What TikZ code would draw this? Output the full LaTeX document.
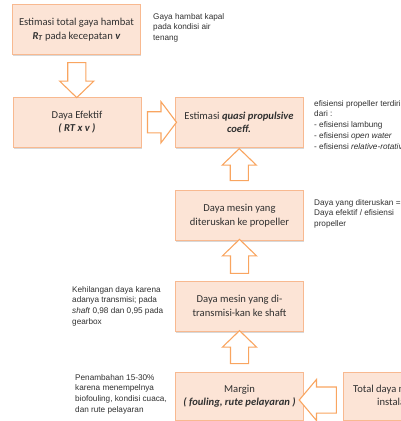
\documentclass[tikz,border=0pt]{standalone}
\usepackage{fontspec}
\setmainfont{Carlito}
\newfontfamily\notefont{Liberation Sans}
\usetikzlibrary{shapes.arrows,shadows,calc}
\definecolor{boxfill}{HTML}{FCE4D6}
\definecolor{boxline}{HTML}{F8B990}
\definecolor{arrline}{HTML}{F9A560}
\definecolor{inkgray}{HTML}{303030}
\begin{document}
\begin{tikzpicture}[x=1pt,y=-1pt,
    box/.style={draw=boxline,fill=boxfill,line width=0.9pt,minimum width=128pt,
      minimum height=50pt,align=center,inner sep=2pt,text=inkgray,
      font=\fontsize{10.6}{13.5}\selectfont,
      drop shadow={shadow xshift=0.6pt,shadow yshift=-1.6pt,fill=black!30,opacity=.5}},
    blockarrow/.style={single arrow,draw=arrline,fill=white,line width=1.1pt,
      inner sep=8.5pt,single arrow head extend=8pt,single arrow tip angle=92,
      minimum height=34pt},
    note/.style={anchor=north west,inner sep=0pt,align=left,text=inkgray,
      font=\notefont\fontsize{8.2}{10.8}\selectfont}]
  \useasboundingbox (0,0) rectangle (401,421);
  % boxes
  \node[box] (gaya) at (76.5,29.5) {Estimasi total gaya hambat\\\textbf{\textit{R\textsubscript{T}}} pada kecepatan \textbf{\textit{v}}};
  \node[box] (efektif) at (77,122) {Daya Efektif\\\textbf{\textit{( RT x v )}}};
  \node[box] (quasi) at (239,122.5) {Estimasi \textbf{\textit{quasi propulsive}}\\\textbf{\textit{coeff.}}};
  \node[box] (diteruskan) at (239.5,215.5) {Daya mesin yang\\diteruskan ke propeller};
  \node[box] (transmisi) at (239.5,306) {Daya mesin yang di-\\transmisi-kan ke shaft};
  \node[box,minimum height=48pt] (margin) at (239.5,396) {Margin\\\textbf{\textit{( fouling, rute pelayaran )}}};
  \node[box,minimum height=48pt] (total) at (407,396) {Total daya mesin yang di-\\instalasi kapal};
  % block arrows
  \node[blockarrow,shape border rotate=270,minimum height=35pt] (a1) at ($(gaya.south)!0.5!(efektif.north)$) {};
  \node[blockarrow,inner sep=10pt,single arrow head extend=10pt,single arrow tip angle=106,minimum height=29pt] (a2) at ($(efektif.east)!0.5!(quasi.west)$) {};
  \node[blockarrow,shape border rotate=90,minimum height=32pt] (a3) at ($(diteruskan.north)!0.5!(quasi.south)$) {};
  \node[blockarrow,shape border rotate=90] (a4) at ($(transmisi.north)!0.5!(diteruskan.south)$) {};
  \node[blockarrow,shape border rotate=90,minimum height=33pt] (a5) at ($(margin.north)!0.5!(transmisi.south)$) {};
  \node[blockarrow,shape border rotate=180,inner sep=12.5pt,single arrow head extend=7.5pt,single arrow tip angle=100,minimum height=35pt] (a6) at ($(total.west)!0.5!(margin.east)+(0,4)$) {};
  % notes
  \node[note] (n1) at (153,13) {Gaya hambat kapal\\pada kondisi air\\tenang};
  \node[note] (n2) at (314,100) {efisiensi propeller terdiri\\dari :\\- efisiensi lambung\\- efisiensi \textit{open water}\\- efisiensi \textit{relative-rotative}};
  \node[note] (n3) at (314,199) {Daya yang diteruskan =\\Daya efektif / efisiensi\\propeller};
  \node[note] (n4) at (72,286) {Kehilangan daya karena\\adanya transmisi; pada\\\textit{shaft} 0,98 dan 0,95 pada\\gearbox};
  \node[note] (n5) at (75,374) {Penambahan 15-30\%\\karena menempelnya\\biofouling, kondisi cuaca,\\dan rute pelayaran};
\end{tikzpicture}
\end{document}
